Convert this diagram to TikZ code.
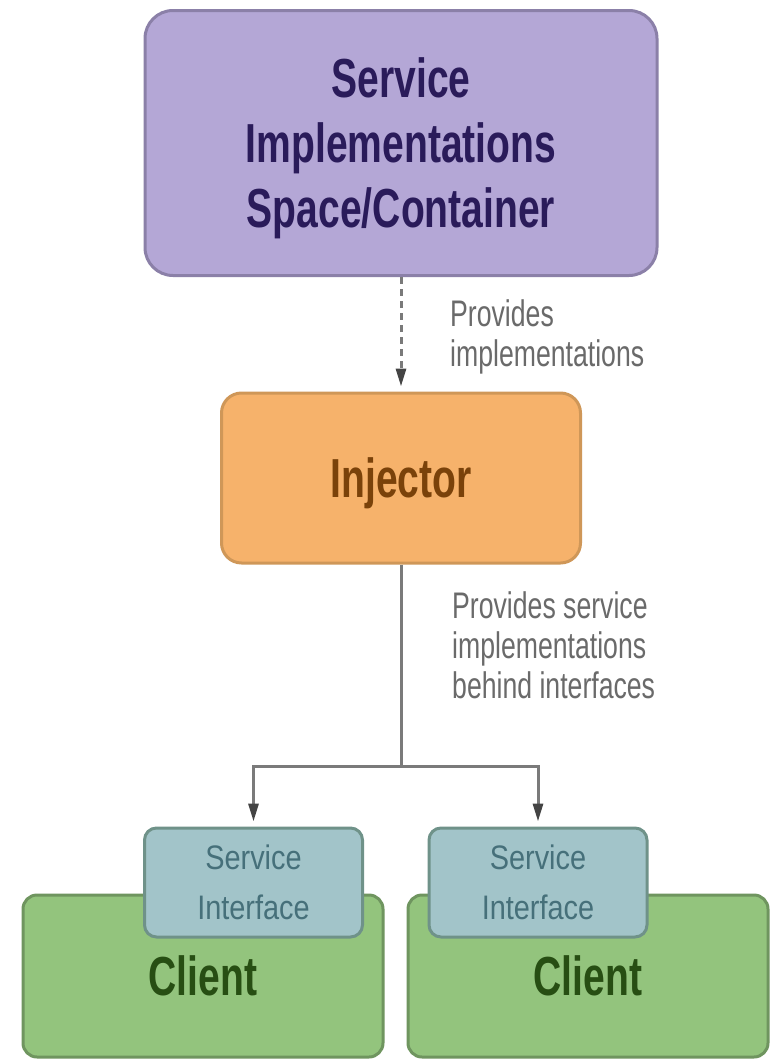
\documentclass[tikz,border=0pt]{standalone}
\usepackage{fontspec}
\setmainfont{Liberation Sans}
\newfontfamily\boldnar[FakeStretch=0.71]{Liberation Sans}
\newfontfamily\labnar[FakeStretch=0.72]{Liberation Sans}
\newfontfamily\ifnar[FakeStretch=0.85]{Liberation Sans}
\usetikzlibrary{arrows.meta}
\definecolor{pfill}{HTML}{B4A7D6}
\definecolor{pdraw}{HTML}{8B80A8}
\definecolor{ptext}{HTML}{2A1B5A}
\definecolor{ofill}{HTML}{F6B26B}
\definecolor{odraw}{HTML}{CF9758}
\definecolor{otext}{HTML}{7A420A}
\definecolor{ifill}{HTML}{A2C4C9}
\definecolor{idraw}{HTML}{6F9289}
\definecolor{itext}{HTML}{46707A}
\definecolor{cfill}{HTML}{93C47D}
\definecolor{cdraw}{HTML}{6F955F}
\definecolor{ctext}{HTML}{274E13}
\definecolor{conn}{HTML}{7A7A7A}
\definecolor{tipc}{HTML}{444444}
\definecolor{labc}{HTML}{6A6A6A}
\tikzset{
  box/.style={draw, line width=3pt, inner sep=0pt, text depth=0pt, align=center},
  bigtxt/.style={font=\boldnar\bfseries\fontsize{55}{65}\selectfont},
  purplebox/.style={box, bigtxt, fill=pfill, draw=pdraw, text=ptext, rounded corners=28pt,
    minimum width=512pt, minimum height=265pt},
  orangebox/.style={box, bigtxt, fill=ofill, draw=odraw, text=otext, rounded corners=20pt,
    minimum width=359pt, minimum height=170pt},
  ifacebox/.style={box, fill=ifill, draw=idraw, text=itext, rounded corners=12pt,
    minimum width=218pt, minimum height=109pt, font=\ifnar\fontsize{34}{50}\selectfont},
  clientbox/.style={box, bigtxt, fill=cfill, draw=cdraw, text=ctext, rounded corners=14pt,
    minimum width=360pt, minimum height=162pt},
  edgelab/.style={anchor=west, inner sep=0pt, text depth=0pt, align=left, text=labc,
    font=\labnar\fontsize{37}{40}\selectfont},
  connector/.style={draw=conn, line width=3pt, shorten >=5pt,
    -{Triangle[length=18pt,width=10pt,color=tipc]}},
}
\begin{document}
\begin{tikzpicture}[x=1pt,y=-1pt]
\useasboundingbox (0,0) rectangle (776,1060);
\fill[white] (0,0) rectangle (776,1060);

\node[purplebox] (svc) at (401,143) {Service\\Implementations\\Space/Container};
\node[orangebox] (inj) at (401,478) {Injector};

\node[clientbox] (cl) at (203,976) {Client};
\node[clientbox] (cr) at (588,976) {Client};
\node[ifacebox] (il) at (253.5,882.5) {Service\\Interface};
\node[ifacebox] (ir) at (538,882.5) {Service\\Interface};

\coordinate (split) at (401,766);

\draw[connector, dash pattern=on 7pt off 5pt] (svc.south) -- (inj.north);
\draw[connector] (inj.south) -- (split) -| (il.north);
\draw[connector] (split) -| (ir.north);

\node[edgelab] (lab1) at (450,333) {Provides\\implementations};
\node[edgelab] (lab2) at (452,645) {Provides service\\implementations\\behind interfaces};
\end{tikzpicture}
\end{document}
